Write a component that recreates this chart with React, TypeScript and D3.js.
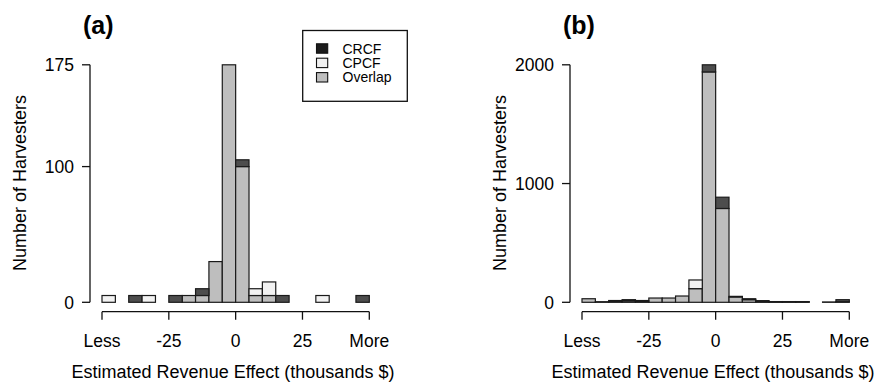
import React from 'react';
import * as d3 from 'd3';

// bin edges: "Less" = -50, "More" = 50, bins of 5 (thousands $)
const binStarts = d3.range(-50, 50, 5);
const tickValues = [-50, -25, 0, 25, 50];
const tickLabels = ['Less', '-25', '0', '25', 'More'];
const legendKeys = ['CRCF', 'CPCF', 'Overlap'];

// panel (a)
const overlapA = [0, 0, 0, 0, 0, 0, 5, 5, 30, 175, 100, 5, 5, 0, 0, 0, 0, 0, 0, 0];
const crcfA = [0, 0, 5, 0, 0, 5, 0, 5, 0, 0, 5, 0, 0, 5, 0, 0, 0, 0, 0, 5];
const cpcfA = [5, 0, 0, 5, 0, 0, 0, 0, 0, 0, 0, 5, 10, 0, 0, 0, 5, 0, 0, 0];
const yTicksA = [0, 100, 175];

// panel (b)
const overlapB = [30, 0, 10, 12, 5, 36, 36, 53, 115, 1940, 790, 45, 22, 5, 3, 3, 3, 0, 3, 5];
const crcfB = [0, 5, 5, 10, 10, 0, 0, 0, 0, 60, 95, 5, 8, 9, 3, 3, 3, 0, 0, 17];
const cpcfB = [0, 0, 0, 0, 0, 0, 0, 0, 73, 0, 0, 0, 0, 0, 0, 0, 0, 0, 0, 0];
const yTicksB = [0, 1000, 2000];

const FONT = '"Liberation Sans", Arial, sans-serif';
const colors = { Overlap: '#bebebe', CRCF: '#4d4d4d', CPCF: '#f2f2f2' };
const legendColors = { CRCF: '#1c1c1c', CPCF: '#f0f0f0', Overlap: '#bebebe' };

type PanelProps = {
  dx: number;
  label: string;
  overlap: number[];
  crcf: number[];
  cpcf: number[];
  yTicks: number[];
  legend?: boolean;
};

function Panel({ dx, label, overlap, crcf, cpcf, yTicks, legend }: PanelProps) {
  const axisX = 90;
  const axisY = 311.7;
  const x = d3.scaleLinear().domain([-50, 50]).range([102, 369.3]);
  const y = d3.scaleLinear().domain([0, d3.max(yTicks) as number]).range([302.3, 64.8]);

  // stack: overlap at bottom, then CRCF, then CPCF
  const rows = binStarts.map((b, i) => ({ b, Overlap: overlap[i], CRCF: crcf[i], CPCF: cpcf[i] }));
  const series = d3.stack<any>().keys(['Overlap', 'CRCF', 'CPCF'])(rows);

  return (
    <g transform={`translate(${dx},0)`} fontFamily={FONT}>
      <text x={83} y={34} fontSize={25} fontWeight="bold">{label}</text>

      {series.map(s => (
        <g key={s.key}>
          {s.filter(d => d[1] > d[0]).map((d, i) => (
            <rect
              key={i}
              x={x(d.data.b)}
              width={x(d.data.b + 5) - x(d.data.b)}
              y={y(d[1])}
              height={y(d[0]) - y(d[1])}
              fill={(colors as any)[s.key]}
              stroke="#1a1a1a"
              strokeWidth={1.2}
            />
          ))}
        </g>
      ))}

      {/* y axis */}
      <line x1={axisX} x2={axisX} y1={y(0)} y2={y(d3.max(yTicks) as number)} stroke="#111" strokeWidth={1.3} />
      {yTicks.map(t => (
        <g key={t}>
          <line x1={axisX - 8} x2={axisX} y1={y(t)} y2={y(t)} stroke="#111" strokeWidth={1.3} />
          <text x={axisX - 16} y={y(t)} dy="0.36em" textAnchor="end" fontSize={17.5}>{t}</text>
        </g>
      ))}
      <text transform={`translate(26,183) rotate(-90)`} textAnchor="middle" fontSize={18}>Number of Harvesters</text>

      {/* x axis */}
      <line x1={x(-50)} x2={x(50)} y1={axisY} y2={axisY} stroke="#111" strokeWidth={1.3} />
      {tickValues.map((t, i) => (
        <g key={t}>
          <line x1={x(t)} x2={x(t)} y1={axisY} y2={axisY + 8} stroke="#111" strokeWidth={1.3} />
          <text x={x(t)} y={347} textAnchor="middle" fontSize={17.5}>{tickLabels[i]}</text>
        </g>
      ))}
      <text x={233} y={378} textAnchor="middle" fontSize={18}>Estimated Revenue Effect (thousands $)</text>

      {legend && (
        <g>
          <rect x={302.7} y={30.5} width={104.6} height={70.8} fill="white" stroke="#111" strokeWidth={1.3} />
          {legendKeys.map((k, i) => (
            <g key={k}>
              <rect x={316.5} y={43.8 + i * 14.4} width={11.2} height={9.4} fill={(legendColors as any)[k]} stroke="#111" strokeWidth={1.1} />
              <text x={342.5} y={48.5 + i * 14.4} dy="0.36em" fontSize={14}>{k}</text>
            </g>
          ))}
        </g>
      )}
    </g>
  );
}

export default function App() {
  return (
    <svg width={883} height={391} style={{ position: 'absolute', left: 0, top: 0, background: 'white' }}>
      <Panel dx={0} label="(a)" overlap={overlapA} crcf={crcfA} cpcf={cpcfA} yTicks={yTicksA} legend />
      <Panel dx={480} label="(b)" overlap={overlapB} crcf={crcfB} cpcf={cpcfB} yTicks={yTicksB} />
    </svg>
  );
}
